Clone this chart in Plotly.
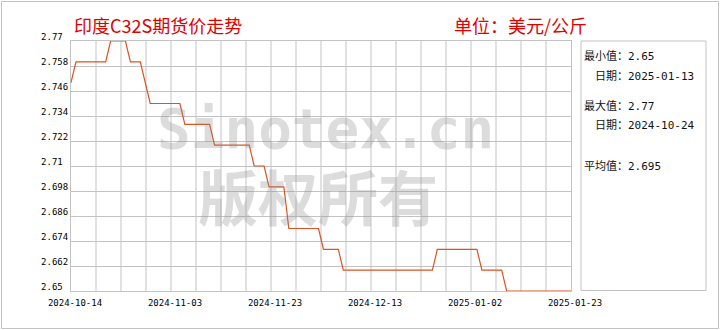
import plotly.graph_objects as go
import pandas as pd

# ---------------- data ----------------
dates = ["2024-10-14", "2024-10-15", "2024-10-21", "2024-10-22", "2024-10-25", "2024-10-26",
         "2024-10-28", "2024-10-30", "2024-11-05", "2024-11-06", "2024-11-11", "2024-11-12",
         "2024-11-19", "2024-11-20", "2024-11-22", "2024-11-23", "2024-11-26", "2024-11-27",
         "2024-12-03", "2024-12-04", "2024-12-07", "2024-12-08", "2024-12-26", "2024-12-27",
         "2025-01-04", "2025-01-05", "2025-01-09", "2025-01-10", "2025-01-23"]
prices = [2.75, 2.76, 2.76, 2.77, 2.77, 2.76,
          2.76, 2.74, 2.74, 2.73, 2.73, 2.72,
          2.72, 2.71, 2.71, 2.70, 2.70, 2.68,
          2.68, 2.67, 2.67, 2.66, 2.66, 2.67,
          2.67, 2.66, 2.66, 2.65, 2.65]

x_start = "2024-10-14"
x_end = "2025-01-23"
x_tick_labels = ["2024-10-14", "2024-11-03", "2024-11-23", "2024-12-13", "2025-01-02", "2025-01-23"]
y_tick_labels = ["2.65", "2.662", "2.674", "2.686", "2.698", "2.71",
                 "2.722", "2.734", "2.746", "2.758", "2.77"]

title_text = "印度C32S期货价走势"
unit_text = "单位：美元/公斤"
stat_lines = ["最小值：2.65", "　日期：2025-01-13", "最大值：2.77", "　日期：2024-10-24", "平均值：2.695"]
watermark_1 = "Sinotex.cn"
watermark_2 = "版权所有"

# ---------------- figure ----------------
W, H = 720, 330
L, R, T, B = 71, 149, 41, 39
PW, PH = W - L - R, H - T - B

def px_x(p):
    return (p - L) / PW

def px_y(p):
    return (H - B - p) / PH

t0, t1 = pd.Timestamp(x_start), pd.Timestamp(x_end)
x_tickvals = [t0 + (t1 - t0) * k / (len(x_tick_labels) - 1) for k in range(len(x_tick_labels))]
y_tickvals = [float(s) for s in y_tick_labels]
y_ticktext = [s + "\u00a0" * (5 - len(s)) for s in y_tick_labels]

grid_c = "#c3c3c3"
line_c = "#DC5322"
mono = "DejaVu Sans Mono"
cjk = "Noto Sans CJK SC"
wm_c = "rgba(140,140,140,0.30)"

fig = go.Figure()
fig.add_trace(go.Scatter(x=pd.to_datetime(dates), y=prices, mode="lines",
                         line=dict(color=line_c, width=1.2), hoverinfo="skip",
                         showlegend=False))

shapes = []
# vertical grid lines (20 columns)
for i in range(1, 20):
    shapes.append(dict(type="line", xref="x domain", yref="y domain", x0=i / 20, x1=i / 20,
                       y0=0, y1=1, line=dict(color=grid_c, width=1), layer="below"))
# right stats box
shapes.append(dict(type="rect", xref="paper", yref="paper", x0=px_x(581), x1=px_x(706),
                   y0=px_y(290.5), y1=px_y(41), line=dict(color=grid_c, width=1),
                   fillcolor="rgba(0,0,0,0)"))
# outer border
shapes.append(dict(type="rect", xref="paper", yref="paper", x0=px_x(1.5), x1=px_x(718.5),
                   y0=px_y(328.5), y1=px_y(1.5), line=dict(color=grid_c, width=1),
                   fillcolor="rgba(0,0,0,0)"))

annotations = [
    dict(text=watermark_1, xref="paper", yref="paper", x=px_x(325), y=px_y(128),
         xanchor="center", yanchor="middle", showarrow=False,
         font=dict(family=mono, size=56, color=wm_c, weight="bold")),
    dict(text=watermark_2, xref="paper", yref="paper", x=px_x(318), y=px_y(194),
         xanchor="center", yanchor="middle", showarrow=False,
         font=dict(family=cjk, size=60, color=wm_c, weight="bold")),
    dict(text=title_text, xref="paper", yref="paper", x=px_x(72), y=px_y(25),
         xanchor="left", yanchor="middle", showarrow=False,
         font=dict(family=cjk, size=18, color="#E00000")),
    dict(text=unit_text, xref="paper", yref="paper", x=px_x(520), y=px_y(25),
         xanchor="center", yanchor="middle", showarrow=False,
         font=dict(family=cjk, size=18, color="#E00000")),
]
stat_y = [56, 76, 106, 126, 166]
for s, yy in zip(stat_lines, stat_y):
    annotations.append(dict(text=s, xref="paper", yref="paper", x=px_x(582), y=px_y(yy),
                            xanchor="left", yanchor="middle", showarrow=False,
                            font=dict(family=mono + ", " + cjk, size=11, color="#111111")))

fig.update_layout(
    width=W, height=H,
    margin=dict(l=L, r=R, t=T, b=B, pad=0),
    paper_bgcolor="white", plot_bgcolor="white",
    shapes=shapes, annotations=annotations,
    xaxis=dict(range=[t0, t1], tickmode="array", tickvals=x_tickvals, ticktext=x_tick_labels,
               showgrid=False, zeroline=False, showline=True, mirror=True, linecolor=grid_c,
               linewidth=1, ticks="", tickfont=dict(family=mono, size=9, color="#000000"),
               ticklabelshift=4, ticklabelstandoff=3),
    yaxis=dict(range=[2.65, 2.77], tickmode="array", tickvals=y_tickvals, ticktext=y_ticktext,
               showgrid=True, gridcolor=grid_c, gridwidth=1, zeroline=False, showline=True,
               mirror=True, linecolor=grid_c, linewidth=1, ticks="",
               tickfont=dict(family=mono, size=9, color="#000000"), ticklabelshift=-4),
)

fig.write_html("out.html")
